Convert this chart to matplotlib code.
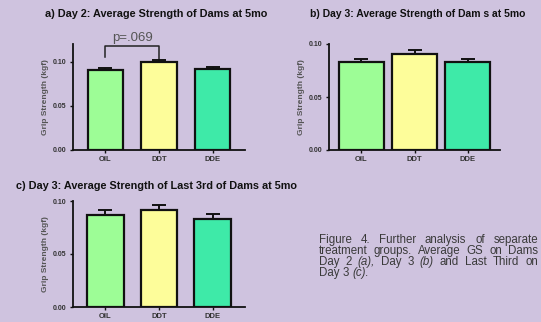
import matplotlib
matplotlib.use("Agg")
import matplotlib.pyplot as plt

plt.rcParams['font.family'] = ['Liberation Sans', 'DejaVu Sans']

groups = ["OIL", "DDT", "DDE"]
bar_colors = ["#9dfd96", "#fdfd9a", "#3eeaa8"]

day2_mean = [0.091, 0.0995, 0.092]
day2_err = [0.002, 0.0025, 0.0025]

day3_mean = [0.083, 0.0905, 0.083]
day3_err = [0.003, 0.0035, 0.003]

last3rd_mean = [0.0868, 0.0918, 0.083]
last3rd_err = [0.0047, 0.0047, 0.0047]

yticks_a = [0.00, 0.05, 0.10]
ytick_labels = ["0.00", "0.05", "0.10"]

titles = ["a) Day 2: Average Strength of Dams at 5mo",
          "b) Day 3: Average Strength of Dam s at 5mo",
          "c) Day 3: Average Strength of Last 3rd of Dams at 5mo"]
ylabel = "Grip Strength (kgf)"
p_text = "p=.069"

# caption lines: list of words (text, italic); last line is not justified
caption = [
    [("Figure", False), ("4.", False), ("Further", False), ("analysis", False),
     ("of", False), ("separate", False)],
    [("treatment", False), ("groups.", False), ("Average", False), ("GS", False),
     ("on", False), ("Dams", False)],
    [("Day", False), ("2", False), ("(a),", True), ("Day", False), ("3", False),
     ("(b)", True), ("and", False), ("Last", False), ("Third", False), ("on", False)],
    [("Day", False), ("3", False), ("(c).", True)],
]

W, H = 541, 322
bg = "#cfc3df"
fig = plt.figure(figsize=(W / 100, H / 100), dpi=100, facecolor=bg)


def px_axes(x0, y0, x1, y1):
    return fig.add_axes([x0 / W, 1 - y1 / H, (x1 - x0) / W, (y1 - y0) / H])


def draw_panel(ax, means, errs, ylim, width):
    ax.set_facecolor(bg)
    x = range(len(groups))
    ax.bar(x, means, width=width, color=bar_colors, edgecolor="#111111",
           linewidth=1.6, zorder=2)
    ax.errorbar(x, means, yerr=[[0] * len(errs), errs], fmt="none",
                ecolor="#111111", elinewidth=1.4, capsize=5, capthick=1.4, zorder=3)
    ax.set_ylim(*ylim)
    ax.set_xlim(-0.6, 2.6)
    ax.set_xticks(list(x))
    ax.set_xticklabels(groups, fontsize=5.5, fontweight="bold", color="#333333")
    ax.set_yticks(yticks_a)
    ax.set_yticklabels(ytick_labels, fontsize=5, fontweight="bold", color="#333333")
    for s in ["top", "right"]:
        ax.spines[s].set_visible(False)
    for s in ["left", "bottom"]:
        ax.spines[s].set_linewidth(1.3)
        ax.spines[s].set_color("#111111")
    ax.tick_params(axis="both", length=2.5, width=1, pad=2, color="#111111")
    ax.set_ylabel(ylabel, fontsize=6, fontweight="bold", color="#555555", labelpad=3)


# Panel a
ax_a = px_axes(73, 44, 245, 150)
draw_panel(ax_a, day2_mean, day2_err, (0, 0.12), 0.66)
ax_a.plot([0, 0, 1, 1], [0.1057, 0.118, 0.118, 0.102], color="#222222", lw=1.1,
          clip_on=False)
ax_a.text(0.5, 0.1265, p_text, ha="center", va="center", fontsize=9.5, color="#555555")

# Panel b
ax_b = px_axes(329, 44, 500, 150)
draw_panel(ax_b, day3_mean, day3_err, (0, 0.10), 0.84)

# Panel c
ax_c = px_axes(73, 201, 245, 307)
draw_panel(ax_c, last3rd_mean, last3rd_err, (0, 0.10), 0.68)

fig.text(156 / W, 1 - 14 / H, titles[0], ha="center", va="center",
         fontsize=7.8, fontweight="bold", color="#111111")
fig.text(418 / W, 1 - 14 / H, titles[1], ha="center", va="center",
         fontsize=7.5, fontweight="bold", color="#111111")
fig.text(16 / W, 1 - 186 / H, titles[2], ha="left", va="center",
         fontsize=7.8, fontweight="bold", color="#111111")

renderer = fig.canvas.get_renderer()
x_left, x_right = 319, 538
for i, line in enumerate(caption):
    ybase = 243 + i * 11
    objs = []
    widths = []
    for word, ital in line:
        t = fig.text(0, 1 - ybase / H, word, ha="left", va="baseline",
                     fontsize=8.3, color="#3a3a3a",
                     style="italic" if ital else "normal")
        widths.append(t.get_window_extent(renderer=renderer).width)
        objs.append(t)
    if i < len(caption) - 1:
        gap = (x_right - x_left - sum(widths)) / (len(objs) - 1)
    else:
        gap = 3.5
    xpx = x_left
    for t, w in zip(objs, widths):
        t.set_x(xpx / W)
        xpx += w + gap

fig.savefig("out.png", dpi=100, facecolor=bg)
